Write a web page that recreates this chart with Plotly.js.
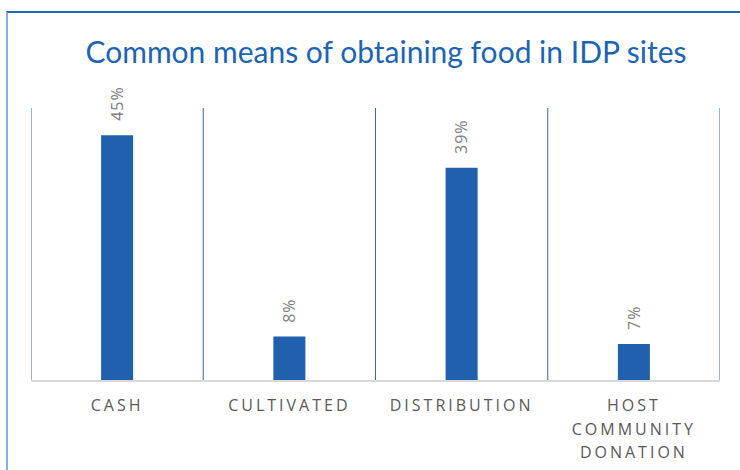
<!DOCTYPE html>
<html>
<head>
<meta charset="utf-8">
<script src="https://cdn.plot.ly/plotly-3.0.1.min.js"></script>
<style>
  html, body { margin: 0; padding: 0; background: #fff; }
  #wrap { position: relative; width: 740px; height: 470px; }
  #chart { width: 740px; height: 470px; }
  #frame { position: absolute; left: 6px; top: 11px; right: 0; bottom: 0;
           border-top: 2px solid #1f6cb6; border-left: 2px solid #86aee0; pointer-events: none; }
  .xtick text { letter-spacing: 3px; }
  .annotation-text { letter-spacing: 1px; }
</style>
</head>
<body>
<div id="wrap">
  <div id="chart"></div>
  <div id="frame"></div>
</div>
<script>
const categories = ["CASH", "CULTIVATED", "DISTRIBUTION", "HOST<br>COMMUNITY<br>DONATION"];
const shares = [0.45, 0.08, 0.39, 0.066];
const shareLabels = ["45%", "8%", "39%", "7%"];
const chartTitle = "Common means of obtaining food in IDP sites";

const trace = {
  type: "bar",
  x: categories,
  y: shares,
  marker: { color: "#2061ad" },
  hoverinfo: "none"
};

const annotations = categories.map((c, i) => ({
  x: c, y: shares[i], xref: "x", yref: "y",
  text: shareLabels[i], showarrow: false,
  textangle: -90, yanchor: "bottom", xanchor: "center",
  yshift: 12,
  font: { family: "Open Sans, sans-serif", size: 16, color: "#808080" }
}));

// category boundary separators (drawn on the category axis)
const boundaries = [];
for (let i = 0; i <= categories.length; i++) boundaries.push(i - 0.5);
const shapes = boundaries.map(b => ({
  type: "line", xref: "x", yref: "paper",
  x0: b, x1: b, y0: 0, y1: 1,
  line: { color: "#3565aa", width: 1 }
}));

const layout = {
  width: 740, height: 470,
  margin: { l: 31, r: 20, t: 108, b: 90 },
  paper_bgcolor: "rgba(0,0,0,0)",
  plot_bgcolor: "rgba(0,0,0,0)",
  title: {
    text: chartTitle,
    font: { family: "Lato, sans-serif", size: 30, color: "#1d64b4" },
    x: 386 / 740, xanchor: "center",
    y: 1 - 52 / 470, yanchor: "middle"
  },
  bargap: 0.814,
  showlegend: false,
  xaxis: {
    type: "category",
    range: [-0.5, 3.5],
    showgrid: false,
    showline: true, linecolor: "#d9d9d9", linewidth: 2,
    ticks: "",
    ticklabelstandoff: 10,
    tickfont: { family: "Open Sans, sans-serif", size: 16, color: "#595959" },
    fixedrange: true
  },
  yaxis: {
    range: [0, 0.5],
    showgrid: false, zeroline: false, showline: false,
    showticklabels: false, ticks: "",
    fixedrange: true
  },
  shapes: shapes,
  annotations: annotations
};

Plotly.newPlot("chart", [trace], layout, { staticPlot: true, displayModeBar: false }).then(gd => {
  gd.querySelectorAll(".xtick text tspan.line").forEach(t => {
    const dy = parseFloat(t.getAttribute("dy"));
    if (!isNaN(dy)) t.setAttribute("dy", (dy * 1.13) + "em");
  });
});
</script>
</body>
</html>
